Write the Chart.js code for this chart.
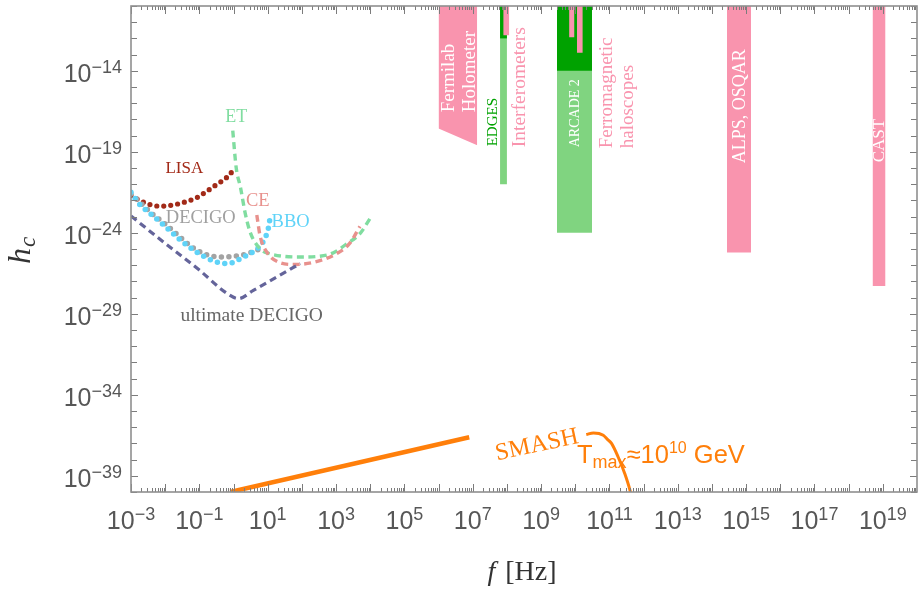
<!DOCTYPE html>
<html><head><meta charset="utf-8">
<script src="https://cdn.jsdelivr.net/npm/chart.js@4/dist/chart.umd.min.js"></script>
<style>html,body{margin:0;padding:0;background:#fff;overflow:hidden}canvas{display:block}</style>
</head><body>
<canvas id="c" width="918" height="589"></canvas>
<script>
// ---------- data (frequency f in Hz, characteristic strain h_c) ----------
const lisaF = [1e-3, 2e-3, 4e-3, 7e-3, 1.2e-2, 2e-2, 4e-2, 8e-2, 0.15, 0.3, 0.6, 0.85, 1.0];
const lisaH = [2.0e-22, 8.9e-23, 5.2e-23, 4.4e-23, 4.7e-23, 5.6e-23, 8.3e-23, 1.4e-22, 3.2e-22, 8.7e-22, 2.4e-21, 5.0e-21, 1.15e-20];

const decigoF = [1e-3, 2e-3, 4e-3, 1e-2, 2.5e-2, 6.3e-2, 0.16, 0.4, 1, 2.5, 5, 8];
const decigoH = [2.5e-22, 6.3e-23, 1.6e-23, 3.5e-24, 6.3e-25, 1.26e-25, 4.5e-26, 3.2e-26, 3.5e-26, 5.0e-26, 8.9e-26, 1.4e-25];

const bboF = [1e-3, 1.7e-3, 3.6e-3, 1e-2, 2.8e-2, 8.5e-2, 0.26, 0.65, 2, 4.8, 7.6, 10.5, 11.5];
const bboH = [3.2e-22, 6.3e-23, 1.6e-23, 2.5e-24, 3.5e-25, 6.3e-26, 1.8e-26, 1.26e-26, 3.2e-26, 1.0e-25, 3.2e-25, 2.0e-24, 6.3e-24];

const etF = [0.95, 1.2, 1.6, 2.2, 3.0, 4.0, 7.0, 12, 30, 100, 300, 800, 2000, 5000, 1e4];
const etH = [2.0e-18, 1.0e-20, 6.3e-22, 1.6e-23, 1.26e-24, 3.2e-25, 7.9e-26, 5.0e-26, 3.5e-26, 3.2e-26, 3.5e-26, 5.6e-26, 2.0e-25, 8.9e-25, 7.9e-24];

const ceF = [4.8, 6.0, 9.5, 20, 60, 250, 1000, 2500, 5000];
const ceH = [1.26e-23, 6.3e-25, 6.3e-26, 1.6e-26, 1.1e-26, 1.6e-26, 5.0e-26, 2.2e-25, 2.5e-24];

const uDecigoF = [1e-3, 5.8e-3, 0.1, 0.65, 1.4, 3.8, 18.6, 90];
const uDecigoH = [1.1e-23, 5.5e-25, 5.0e-27, 1.8e-28, 8.7e-29, 2.8e-28, 1.9e-27, 1.26e-26];

const smashLineF = [0.8, 7.9e6];
const smashLineH = [1.0e-40, 2.4e-37];
const smashPeakF = [2.1e10, 3.4e10, 6.6e10, 8.9e10, 1.15e11, 1.8e11, 2.8e11, 4.0e11, 4.4e11];
const smashPeakH = [3.5e-37, 4.4e-37, 3.2e-37, 1.7e-37, 1.0e-37, 1.45e-38, 1.4e-39, 1.26e-40, 5e-41];

// experimental bounds: frequency edges and lower h_c edge (they extend to the top of the plot)
const holometerF = [1.0e6, 1.35e7];   const holometerH = [2.7e-18, 2.5e-19];
const edgesF = [6.3e7, 1.0e8];        const edgesDarkH = 1e-12;  const edgesLightH = 1e-21;
const interfF = [7.8e7, 1.17e8];      const interfH = 1.55e-12;
const arcadeF = [2.9e9, 3.1e10];      const arcadeDarkH = 1e-14; const arcadeLightH = 1e-24;
const ferro1F = [6.6e9, 9.5e9];       const ferro1H = 1.17e-12;
const ferro2F = [1.12e10, 1.66e10];   const ferro2H = 1.3e-13;
const alpsF = [2.75e14, 1.4e15];      const alpsH = 6.0e-26;
const castF = [5.0e18, 1.2e19];       const castH = 5.2e-28;

const xTickExps = [-3, -1, 1, 3, 5, 7, 9, 11, 13, 15, 17, 19];
const yTickExps = [-14, -19, -24, -29, -34, -39];

// ---------- styles ----------
const PINK = '#f994ae', DGREEN = '#00a200', LGREEN = '#80d480', ORANGE = '#ff7f0a';
const C_LISA = '#a22a18', C_DEC = '#a3a3a3', C_BBO = '#5fd3f8', C_ET = '#80dda0', C_CE = '#e8918d', C_UD = '#64649a';

function pts(fa, ha) { return fa.map((f, i) => ({x: f, y: ha[i]})); }
function rect(fa, h, color, order) {
  const h2 = Array.isArray(h) ? h : [h, h];
  return {data: pts(fa, h2), fill: 'end', backgroundColor: color, borderColor: 'rgba(0,0,0,0)',
          borderWidth: 0, pointRadius: 0, tension: 0, order};
}
function curve(fa, ha, color, dash, width, cap) {
  return {data: pts(fa, ha), borderColor: color, borderWidth: width, borderDash: dash,
          borderCapStyle: cap, pointRadius: 0, fill: false, cubicInterpolationMode: 'monotone', order: 1};
}

const datasets = [
  rect(arcadeF, arcadeLightH, LGREEN, 10),
  rect(edgesF, edgesLightH, LGREEN, 10),
  rect(arcadeF, arcadeDarkH, DGREEN, 9),
  rect(edgesF, edgesDarkH, DGREEN, 9),
  rect(interfF, interfH, PINK, 8),
  rect(ferro1F, ferro1H, PINK, 8),
  rect(ferro2F, ferro2H, PINK, 8),
  rect(holometerF, holometerH, PINK, 8),
  rect(alpsF, alpsH, PINK, 8),
  rect(castF, castH, PINK, 8),
  curve(uDecigoF, uDecigoH, C_UD, [7, 4.5], 3.2, 'butt'),
  curve(ceF, ceH, C_CE, [7, 4.5], 3.4, 'butt'),
  curve(etF, etH, C_ET, [7, 4.5], 3.4, 'butt'),
  curve(bboF, bboH, C_BBO, [0, 7.5], 5.5, 'round'),
  curve(decigoF, decigoH, C_DEC, [0, 7.5], 5.5, 'round'),
  curve(lisaF, lisaH, C_LISA, [0, 7], 5.2, 'round'),
  Object.assign(curve(smashLineF, smashLineH, ORANGE, [], 4.5, 'butt'), {cubicInterpolationMode: 'default', tension: 0}),
  curve(smashPeakF, smashPeakH, ORANGE, [], 3, 'butt'),
];

const SANS = '"Liberation Sans", Arial, sans-serif';
const SERIF = '"Liberation Serif", "Times New Roman", serif';

function P(chart, lf, lh) {
  return [chart.scales.x.getPixelForValue(Math.pow(10, lf)), chart.scales.y.getPixelForValue(Math.pow(10, lh))];
}

const annotPlugin = {
  id: 'annot',
  afterDatasetsDraw(chart) {
    const ctx = chart.ctx;
    ctx.save();
    // vertical labels in the bounds (anchor: x centre, bottom end of text)
    const vlabels = [
      ['Fermilab', 6.29, -16.56, '#ffffff', 19],
      ['Holometer', 6.89, -16.56, '#ffffff', 19],
      ['EDGES', 7.56, -18.66, DGREEN, 15],
      ['Interferometers', 8.35, -18.72, PINK, 19.5],
      ['ARCADE 2', 9.98, -18.72, '#ffffff', 14],
      ['Ferromagnetic', 10.91, -18.78, PINK, 19],
      ['haloscopes', 11.5, -18.78, PINK, 19],
      ['ALPS, OSQAR', 14.79, -19.71, '#ffffff', 18],
      ['CAST', 18.88, -19.65, '#ffffff', 17],
    ];
    for (const [t, lf, lh, col, sz] of vlabels) {
      const [x, y] = P(chart, lf, lh);
      ctx.save();
      ctx.translate(x, y); ctx.rotate(-Math.PI / 2);
      ctx.font = sz + 'px ' + SERIF; ctx.fillStyle = col;
      ctx.textAlign = 'left'; ctx.textBaseline = 'middle';
      ctx.fillText(t, 0, 1);
      ctx.restore();
    }
    // curve labels (centre anchored)
    const clabels = [
      ['ET', 0.08, -16.81, C_ET, 18],
      ['LISA', -1.44, -19.99, C_LISA, 17],
      ['CE', 0.71, -22.0, C_CE, 18.5],
      ['DECIGO', -0.96, -23.04, '#a0a0a0', 18.5],
      ['BBO', 1.67, -23.29, C_BBO, 18.5],
      ['ultimate DECIGO', 0.53, -29.09, '#666666', 19.5],
    ];
    ctx.textAlign = 'center'; ctx.textBaseline = 'middle';
    for (const [t, lf, lh, col, sz] of clabels) {
      const [x, y] = P(chart, lf, lh);
      ctx.font = sz + 'px ' + SERIF; ctx.fillStyle = col;
      ctx.fillText(t, x, y + 1);
    }
    // SMASH label
    {
      const [x, y] = P(chart, 8.88, -37.12);
      ctx.save(); ctx.translate(x, y); ctx.rotate(-12 * Math.PI / 180);
      ctx.font = '24.5px ' + SERIF; ctx.fillStyle = ORANGE;
      ctx.fillText('SMASH', 0, 0);
      ctx.restore();
    }
    // T_max ≈ 10^10 GeV
    {
      let [x, y] = P(chart, 10.05, -38.22);
      ctx.textAlign = 'left'; ctx.textBaseline = 'alphabetic'; ctx.fillStyle = ORANGE;
      const seg = [['T', 25.5, 0], ['max', 18, 5], ['\u224810', 25.5, 0], ['10', 16, -10], [' GeV', 25.5, 0]];
      for (const [t, sz, dy] of seg) {
        ctx.font = sz + 'px ' + SANS;
        ctx.fillText(t, x, y + dy);
        x += ctx.measureText(t).width;
      }
    }
    ctx.restore();
  },
  afterDraw(chart) {
    const ctx = chart.ctx, ca = chart.chartArea, xs = chart.scales.x, ys = chart.scales.y;
    ctx.save();
    // ticks
    ctx.strokeStyle = '#7c7c7c'; ctx.lineWidth = 1;
    ctx.beginPath();
    for (let e = -3; e < 20; e++) {
      for (let m = 1; m <= 9; m++) {
        const v = m * Math.pow(10, e);
        const px = Math.round(xs.getPixelForValue(v)) + 0.5;
        if (px < ca.left || px > ca.right) continue;
        const len = m === 1 ? 8 : 4;
        ctx.moveTo(px, ca.bottom); ctx.lineTo(px, ca.bottom - len);
        ctx.moveTo(px, ca.top); ctx.lineTo(px, ca.top + len);
      }
    }
    for (let e = -40; e <= -10; e++) {
      const py = Math.round(ys.getPixelForValue(Math.pow(10, e))) + 0.5;
      const len = (e + 4) % 5 === 0 ? 7 : 6;
      ctx.moveTo(ca.left, py); ctx.lineTo(ca.left + len, py);
      ctx.moveTo(ca.right, py); ctx.lineTo(ca.right - len, py);
    }
    ctx.stroke();
    // frame
    ctx.strokeStyle = '#8f8f8f'; ctx.lineWidth = 1.6;
    ctx.strokeRect(ca.left, ca.top, ca.right - ca.left, ca.bottom - ca.top);
    // tick labels
    ctx.fillStyle = '#575757'; ctx.textBaseline = 'alphabetic'; ctx.textAlign = 'left';
    const BF = '25px ' + SANS, EF = '18px ' + SANS;
    function lab(exp, x, y, align) {
      const es = exp < 0 ? '\u2212' + Math.abs(exp) : String(exp);
      ctx.font = BF; const wb = ctx.measureText('10').width;
      ctx.font = EF; const we = ctx.measureText(es).width;
      const x0 = align === 'center' ? x - (wb + we) / 2 : x - (wb + we);
      ctx.font = BF; ctx.fillText('10', x0, y);
      ctx.font = EF; ctx.fillText(es, x0 + wb, y - 9);
    }
    for (const e of xTickExps) lab(e, xs.getPixelForValue(Math.pow(10, e)), ca.bottom + 37, 'center');
    for (const e of yTickExps) lab(e, ca.left - 9, ys.getPixelForValue(Math.pow(10, e)) + 11, 'right');
    // axis titles
    ctx.fillStyle = '#333333';
    {
      ctx.save(); ctx.translate(30, 250); ctx.rotate(-Math.PI / 2);
      ctx.font = 'italic 32px ' + SERIF; ctx.textAlign = 'left';
      const wh = ctx.measureText('h').width;
      ctx.fillText('h', -wh / 2 - 6, 0);
      ctx.font = 'italic 23px ' + SERIF;
      ctx.fillText('c', wh / 2 - 5, 5);
      ctx.restore();
    }
    {
      ctx.font = 'italic 28px ' + SERIF;
      const wf = ctx.measureText('f').width;
      ctx.font = '28px ' + SERIF;
      const wr = ctx.measureText('[Hz]').width;
      const gap = 10;
      const x0 = 522 - (wf + gap + wr) / 2, y0 = 580;
      ctx.font = 'italic 28px ' + SERIF; ctx.fillText('f', x0, y0);
      ctx.font = '28px ' + SERIF; ctx.fillText('[Hz]', x0 + wf + gap, y0);
    }
    ctx.restore();
  }
};

new Chart(document.getElementById('c'), {
  type: 'line',
  data: {datasets},
  options: {
    responsive: false, animation: false, events: [],
    layout: {padding: {left: 131, right: 1, top: 6, bottom: 97}},
    plugins: {legend: {display: false}, tooltip: {enabled: false}},
    scales: {
      x: {type: 'logarithmic', min: 1e-3, max: 1e20, display: false},
      y: {type: 'logarithmic', min: 1e-40, max: 1e-10, display: false}
    }
  },
  plugins: [annotPlugin]
});
</script>
</body></html>
